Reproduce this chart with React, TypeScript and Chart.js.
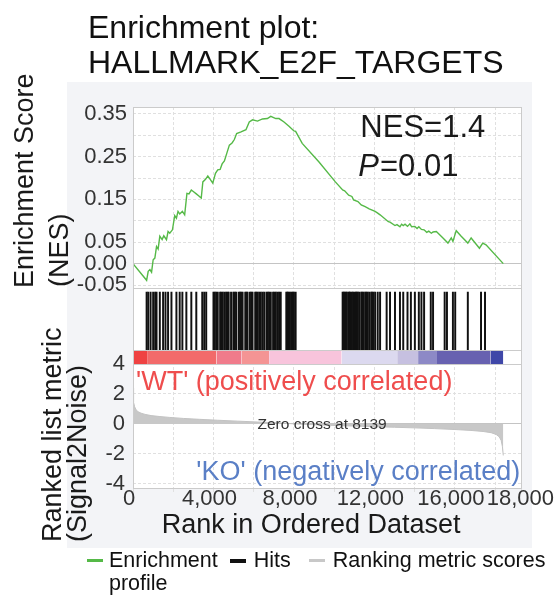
import React, { useEffect, useRef } from 'react';
import { Chart, registerables } from 'chart.js';

Chart.register(...registerables);

const FONT = '"Liberation Sans", Arial, Helvetica, sans-serif';

const plotTitle = ['Enrichment plot:', 'HALLMARK_E2F_TARGETS'];

// Running enrichment score (rank, ES)
const esRanks = [0, 677, 756, 840, 923, 1002, 1086, 1170, 1249, 1333, 1447, 1531, 1664, 1743, 1827, 1960, 2074, 2158, 2237, 2321, 2454, 2568, 2681, 2780, 2899, 3012, 3146, 3274, 3392, 3472, 3605, 3719, 3837, 3965, 4099, 4212, 4331, 4430, 4543, 4657, 4790, 4923, 5037, 5151, 5368, 5615, 5778, 5941, 6188, 6435, 6681, 6849, 7096, 7259, 7506, 7753, 8000, 8084, 8411, 9235, 10058, 10420, 10520, 10720, 10880, 10963, 11180, 11343, 11539, 11740, 12034, 12163, 12281, 12691, 12775, 13021, 13120, 13269, 13350, 13432, 13520, 13644, 13762, 13850, 14010, 14120, 14207, 14336, 14469, 14600, 14700, 14830, 14914, 15077, 15407, 15654, 15819, 15901, 16066, 16313, 16642, 16807, 17218, 17383, 17547, 18404];
const esScores = [0.0, -0.039, -0.018, -0.014, -0.02, 0.009, 0.013, 0.04, 0.034, 0.064, 0.056, 0.065, 0.056, 0.075, 0.071, 0.079, 0.112, 0.106, 0.122, 0.116, 0.122, 0.114, 0.164, 0.163, 0.172, 0.168, 0.163, 0.158, 0.153, 0.191, 0.197, 0.205, 0.197, 0.188, 0.211, 0.219, 0.22, 0.233, 0.24, 0.257, 0.277, 0.282, 0.29, 0.304, 0.308, 0.313, 0.331, 0.336, 0.333, 0.338, 0.339, 0.344, 0.339, 0.339, 0.331, 0.321, 0.31, 0.309, 0.281, 0.238, 0.191, 0.172, 0.17, 0.16, 0.157, 0.149, 0.145, 0.137, 0.133, 0.128, 0.122, 0.118, 0.114, 0.098, 0.097, 0.089, 0.091, 0.086, 0.092, 0.089, 0.092, 0.087, 0.093, 0.086, 0.087, 0.082, 0.086, 0.08, 0.079, 0.073, 0.076, 0.071, 0.074, 0.075, 0.06, 0.048, 0.06, 0.052, 0.077, 0.064, 0.048, 0.06, 0.036, 0.048, 0.044, 0.0];

// Positions of gene-set members in the ranked list
const hitRanks = [677, 756, 874, 1002, 1101, 1170, 1333, 1496, 1615, 1743, 1911, 2158, 2321, 2454, 2652, 2899, 3146, 3442, 3541, 3639, 4000, 4060, 4133, 4212, 4331, 4390, 4459, 4543, 4627, 4700, 4755, 4874, 4988, 5050, 5121, 5249, 5319, 5380, 5447, 5580, 5640, 5694, 5812, 5880, 5941, 6074, 6130, 6188, 6272, 6350, 6435, 6519, 6632, 6700, 6765, 6849, 6963, 7030, 7096, 7175, 7259, 7343, 7620, 7680, 7719, 7802, 7886, 7940, 8000, 8084, 10420, 10470, 10519, 10580, 10632, 10716, 10760, 10800, 10879, 10940, 11012, 11076, 11120, 11175, 11244, 11343, 11400, 11457, 11541, 11600, 11654, 11738, 11837, 11890, 11951, 12035, 12163, 12281, 12607, 12775, 13022, 13269, 13432, 13644, 13812, 14010, 14207, 14336, 14469, 14800, 14914, 15491, 15605, 15901, 16015, 16642, 17298, 17496];

// Ranked list metric (Signal2Noise)
const metricRanks = [0, 15, 40, 80, 150, 250, 400, 600, 900, 1300, 1800, 2500, 3300, 4200, 5200, 6200, 7200, 8139, 9000, 10000, 11000, 12000, 13000, 14000, 15000, 16000, 16800, 17400, 17800, 18050, 18200, 18300, 18360, 18404];
const metricValues = [2.4, 1.9, 1.45, 1.15, 0.95, 0.82, 0.72, 0.64, 0.56, 0.5, 0.44, 0.37, 0.31, 0.25, 0.19, 0.13, 0.07, 0, -0.05, -0.1, -0.14, -0.18, -0.22, -0.26, -0.31, -0.37, -0.43, -0.5, -0.58, -0.7, -0.85, -1.1, -1.5, -2.1];

// Heat bar segments along the ranked list
const colorBarEdges = [0, 700, 4150, 5400, 6765, 10370, 13130, 14170, 15110, 17780, 18404];
const colorBarColors = ['#ef4242', '#f26a6a', '#f07b8b', '#f49494', '#f8c4dc', '#dcd9ef', '#c6c0e0', '#8d89c6', '#6761b0', '#3f47a8'];

const esTickLabels = [-0.05, 0, 0.05, 0.15, 0.25, 0.35];
const metricTickLabels = [-4, -2, 0, 2, 4];
const xGridRanks = [0, 2000, 4000, 6000, 8000, 10000, 12000, 14000, 16000, 18000];
const xLabelRanks = [0, 4000, 8000, 12000, 16000];
const xAxisMax = 19300;
const xEndLabel = '\u00a018,000';

const zeroCross = 8139;
const nes = 1.4;
const pValue = 0.01;

const seriesNames = ['Enrichment profile', 'Hits', 'Ranking metric scores'];
const seriesColors = ['#55b947', '#111111', '#c8c8c8'];

const GRID = '#e0e0e0';
const ZERO = '#c4c4c4';
const BORDER = '#cbcbcb';

const isZero = (ctx: any) => ctx && ctx.tick && Math.abs(ctx.tick.value) < 1e-9;

const gseaPlugin = {
  id: 'gsea',
  beforeDraw(chart: any) {
    const { ctx, chartArea: a } = chart;
    ctx.save();
    ctx.fillStyle = '#f3f4f7';
    ctx.fillRect(67, 82, 465, 466);
    ctx.fillStyle = '#ffffff';
    ctx.fillRect(a.left, a.top, a.right - a.left, a.bottom - a.top);
    ctx.restore();
  },
  beforeDatasetsDraw(chart: any) {
    const { ctx, chartArea: a, scales } = chart;
    const h = scales.yHits;
    ctx.save();
    ctx.fillStyle = '#ffffff';
    ctx.fillRect(a.left, h.top, a.right - a.left, h.bottom - h.top);
    ctx.restore();
  },
  afterDraw(chart: any) {
    const { ctx, chartArea: a, scales } = chart;
    const { x, yES, yHits, yC, yM } = scales;
    ctx.save();
    // panel borders
    ctx.strokeStyle = BORDER;
    ctx.lineWidth = 1;
    [yES, yHits, yC, yM].forEach((s: any) => {
      ctx.strokeRect(Math.round(a.left) + 0.5, Math.round(s.top) + 0.5, Math.round(a.right - a.left), Math.round(s.bottom - s.top));
    });

    // NES / P annotation
    ctx.fillStyle = '#1a1a1a';
    ctx.textAlign = 'left';
    ctx.textBaseline = 'alphabetic';
    ctx.font = `31px ${FONT}`;
    ctx.fillText(`NES=${nes}`, x.getPixelForValue(11300), yES.getPixelForValue(0.297));
    const px = x.getPixelForValue(11200);
    const py = yES.getPixelForValue(0.205);
    ctx.font = `italic 31px ${FONT}`;
    ctx.fillText('P', px, py);
    const pw = ctx.measureText('P').width;
    ctx.font = `31px ${FONT}`;
    ctx.fillText(`=${pValue.toFixed(2)}`, px + pw + 1, py);

    // phenotype labels
    ctx.font = `27px ${FONT}`;
    ctx.fillStyle = '#ef4d4d';
    ctx.fillText("'WT' (positively correlated)", x.getPixelForValue(150), yM.getPixelForValue(2.25));
    ctx.fillStyle = '#5a7fc6';
    ctx.textAlign = 'right';
    ctx.fillText("'KO' (negatively correlated)", x.getPixelForValue(19250), yM.getPixelForValue(-3.75));

    // zero cross
    ctx.fillStyle = '#333333';
    ctx.font = `15.5px ${FONT}`;
    ctx.textAlign = 'center';
    ctx.textBaseline = 'middle';
    ctx.fillText(`Zero cross at ${zeroCross}`, x.getPixelForValue(9400), yM.getPixelForValue(-0.07));

    // axis titles
    ctx.fillStyle = '#1a1a1a';
    ctx.textBaseline = 'alphabetic';
    ctx.textAlign = 'left';
    ctx.font = `27px ${FONT}`;
    const rot = (text: string, bx: number, by: number) => {
      ctx.save();
      ctx.translate(bx, by);
      ctx.rotate(-Math.PI / 2);
      ctx.fillText(text, 0, 0);
      ctx.restore();
    };
    rot('Enrichment Score', 33, yES.bottom);
    rot('(NES)', 68, yES.bottom - 1);
    rot('Ranked list metric', 61, 542);
    rot('(Signal2Noise)', 86, 542);

    ctx.textAlign = 'center';
    ctx.fillText('Rank in Ordered Dataset', (a.left + a.right) / 2 - 16, 533);
    ctx.restore();
  },
};

const leftWidth = (s: any) => {
  s.width = 133;
};

const hiddenAxis = (weight: number, stackWeight: number, min: number, max: number) => ({
  type: 'linear',
  position: 'left',
  stack: 'main',
  stackWeight,
  weight,
  min,
  max,
  ticks: { display: false },
  grid: { display: false },
  border: { display: false },
  afterFit: leftWidth,
});

function buildConfig(): any {
  const datasets: any[] = [
    {
      label: seriesNames[0],
      type: 'line',
      data: esRanks.map((r, i) => ({ x: r, y: esScores[i] })),
      yAxisID: 'yES',
      borderColor: seriesColors[0],
      borderWidth: 1.4,
      pointRadius: 0,
      tension: 0,
      fill: false,
    },
    {
      label: seriesNames[1],
      type: 'bar',
      data: hitRanks.map((r) => ({ x: r, y: 1 })),
      yAxisID: 'yHits',
      backgroundColor: seriesColors[1],
      borderWidth: 0,
      barThickness: 1.3,
    },
    {
      label: seriesNames[2],
      type: 'line',
      data: metricRanks.map((r, i) => ({ x: r, y: metricValues[i] })),
      yAxisID: 'yM',
      borderColor: '#c2c2c2',
      backgroundColor: seriesColors[2],
      borderWidth: 1,
      pointRadius: 0,
      tension: 0,
      fill: 'origin',
    },
  ];
  colorBarColors.forEach((c, i) => {
    datasets.push({
      label: `heat-${i}`,
      type: 'line',
      data: [
        { x: colorBarEdges[i], y: 1 },
        { x: colorBarEdges[i + 1], y: 1 },
      ],
      yAxisID: 'yC',
      borderWidth: 0,
      borderColor: c,
      backgroundColor: c,
      pointRadius: 0,
      fill: 'origin',
    });
  });

  return {
    type: 'line',
    data: { datasets },
    plugins: [gseaPlugin],
    options: {
      animation: false,
      responsive: false,
      devicePixelRatio: 1,
      events: [],
      layout: { padding: { top: 107, right: 31, left: 0, bottom: 0 } },
      plugins: {
        legend: { display: false },
        tooltip: { enabled: false },
        title: { display: false },
      },
      scales: {
        x: {
          type: 'linear',
          position: 'bottom',
          min: 0,
          max: xAxisMax,
          offset: false,
          afterBuildTicks: (s: any) => {
            s.ticks = xGridRanks.map((v) => ({ value: v })).concat([{ value: xAxisMax }]);
          },
          afterFit: (s: any) => {
            s.height = 108;
          },
          ticks: {
            autoSkip: false,
            maxRotation: 0,
            padding: -4,
            labelOffset: -4,
            color: '#333333',
            font: { family: FONT, size: 22, lineHeight: 1 },
            callback: (value: number) => {
              if (value === xAxisMax) return xEndLabel;
              return xLabelRanks.includes(value) ? value.toLocaleString('en-US') : '';
            },
          },
          grid: {
            offset: false,
            color: GRID,
            drawTicks: true,
            tickLength: 4,
            tickColor: GRID,
          },
          border: { display: false, dash: [3, 2] },
        },
        yM: {
          type: 'linear',
          position: 'left',
          stack: 'main',
          stackWeight: 124,
          weight: 1,
          min: -4.27,
          max: 4,
          afterFit: leftWidth,
          ticks: {
            stepSize: 2,
            includeBounds: false,
            autoSkip: false,
            padding: 8,
            color: '#333333',
            font: { family: FONT, size: 22 },
            callback: (value: number) => {
              const v = Math.round(value);
              return metricTickLabels.includes(v) && Math.abs(v - value) < 1e-6 ? String(v) : '';
            },
          },
          grid: {
            drawTicks: false,
            color: (ctx: any) => (isZero(ctx) ? ZERO : GRID),
          },
          border: { display: false, dash: (ctx: any) => (isZero(ctx) ? [] : [3, 2]) },
        },
        yC: hiddenAxis(2, 14, 0, 1),
        yHits: hiddenAxis(3, 62, 0, 1.069),
        yES: {
          type: 'linear',
          position: 'left',
          stack: 'main',
          stackWeight: 181,
          weight: 4,
          min: -0.057,
          max: 0.366,
          afterFit: leftWidth,
          ticks: {
            stepSize: 0.05,
            includeBounds: false,
            autoSkip: false,
            padding: 6,
            color: '#333333',
            font: { family: FONT, size: 22 },
            callback: (value: number) => {
              const v = Math.round(value * 100) / 100;
              return esTickLabels.includes(v) ? v.toFixed(2) : '';
            },
          },
          grid: {
            drawTicks: false,
            color: (ctx: any) => (isZero(ctx) ? ZERO : GRID),
          },
          border: { display: false, dash: (ctx: any) => (isZero(ctx) ? [] : [3, 2]) },
        },
      },
    },
  };
}

const legendItems = [
  { lines: ['Enrichment', 'profile'], color: seriesColors[0], thick: 3, gap: 6, after: 12 },
  { lines: ['Hits'], color: seriesColors[1], thick: 4, gap: 8, after: 18 },
  { lines: ['Ranking metric scores'], color: seriesColors[2], thick: 3, gap: 8, after: 0 },
];

export default function App() {
  const ref = useRef<HTMLCanvasElement>(null);
  useEffect(() => {
    if (!ref.current) return;
    const chart = new Chart(ref.current, buildConfig());
    return () => chart.destroy();
  }, []);

  return (
    <div style={{ position: 'absolute', left: 0, top: 0, width: 554, height: 596, background: '#ffffff', overflow: 'hidden' }}>
      <canvas ref={ref} width={554} height={596} style={{ position: 'absolute', left: 0, top: 0, width: 554, height: 596 }} />
      <div style={{ position: 'absolute', left: 88, top: 10, font: `32px/35px ${FONT}`, color: '#111111', whiteSpace: 'pre' }}>
        {plotTitle.join('\n')}
      </div>
      <div style={{ position: 'absolute', left: 87, top: 549, display: 'flex', alignItems: 'flex-start', font: `21.5px/23.4px ${FONT}`, color: '#111111', whiteSpace: 'nowrap' }}>
        {legendItems.map((it, i) => (
          <div key={i} style={{ display: 'flex', alignItems: 'flex-start', marginRight: it.after }}>
            <span style={{ display: 'inline-block', width: 16, height: it.thick, background: it.color, marginTop: 11.7 - it.thick / 2, marginRight: it.gap }} />
            <span>
              {it.lines.map((l, j) => (
                <div key={j}>{l}</div>
              ))}
            </span>
          </div>
        ))}
      </div>
    </div>
  );
}
